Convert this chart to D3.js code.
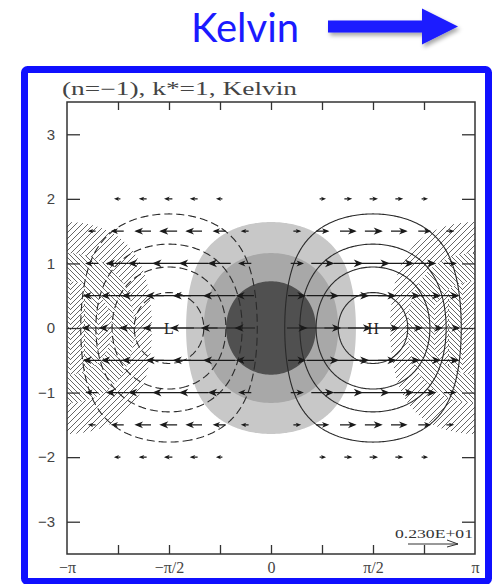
<!DOCTYPE html>
<html>
<head>
<meta charset="utf-8">
<script src="https://cdn.jsdelivr.net/npm/d3@7"></script>
<style>
body { margin: 0; background: #fff; }
</style>
</head>
<body>
<script>
var PI = Math.PI;

// axes
var xTicks = [-PI, -3*PI/4, -PI/2, -PI/4, 0, PI/4, PI/2, 3*PI/4, PI];
var xLabelVals = [-PI, -PI/2, 0, PI/2, PI];
var xLabels = ["\u2212\u03c0", "\u2212\u03c0/2", "0", "\u03c0/2", "\u03c0"];
var yTicks = [-3, -2, -1, 0, 1, 2, 3];

// wind vectors: rows in y, columns in units of pi/8
var arrowRows = [-2, -1.5, -1, -0.5, 0, 0.5, 1, 1.5, 2];
var arrowCols = [-8, -7, -6, -5, -4, -3, -2, -1, 0, 1, 2, 3, 4, 5, 6, 7, 8];
var uMax = 2.30;                     // reference vector 0.230E+01

// Kelvin wave, n=-1, k*=1
var waveK = 1;
var contourLevels = [0.21, 0.43, 0.64, 0.86];   // height, solid (+) / dashed (-)
var shadeLevels = [0.26, 0.51, 0.77];           // divergence, grey (+) / hatched (-)
var shadeColors = ["#c8c8c8", "#a8a8a8", "#505050"];
var centres = [{name: "L", x: -PI/2}, {name: "H", x: PI/2}];

var width = 495, height = 584;
var plot = {left: 67, right: 475, top: 102, bottom: 554};

var x = d3.scaleLinear().domain([-PI, PI]).range([plot.left, plot.right]);
var y = d3.scaleLinear().domain([-3.5, 3.5]).range([plot.bottom, plot.top]);
var arrowLen = d3.scaleLinear().domain([0, uMax]).range([0, 50]);

var svg = d3.select("body").append("svg")
    .attr("width", width)
    .attr("height", height)
    .style("font-family", "'Liberation Serif', serif");

var defs = svg.append("defs");
defs.append("clipPath").attr("id", "plotclip")
    .append("rect")
    .attr("x", plot.left).attr("y", plot.top)
    .attr("width", plot.right - plot.left).attr("height", plot.bottom - plot.top);

//hatch patterns for the negative divergence
var p1 = defs.append("pattern").attr("id", "hatch1").attr("patternUnits", "userSpaceOnUse")
    .attr("width", 6).attr("height", 6);
p1.append("path").attr("d", "M-1,7 L7,-1 M-1,1 L1,-1 M5,7 L7,5")
    .attr("stroke", "#555").attr("stroke-width", 0.9);
var p2 = defs.append("pattern").attr("id", "hatch2").attr("patternUnits", "userSpaceOnUse")
    .attr("width", 5).attr("height", 5);
p2.append("path").attr("d", "M-1,-1 L6,6 M4,-1 L6,1 M-1,4 L1,6")
    .attr("stroke", "#555").attr("stroke-width", 0.9);
//herringbone: columns of alternating slant
var p3 = defs.append("pattern").attr("id", "hatch3").attr("patternUnits", "userSpaceOnUse")
    .attr("width", 28).attr("height", 5);
p3.append("rect").attr("width", 28).attr("height", 5).attr("fill", "#fff");
p3.append("path")
    .attr("d", "M0,0 L5,5 M5,0 L10,5 M10,0 L14,4 M-5,0 L0,5 M9,-1 L10,0 M0,4 L1,5" +
               "M14,5 L19,0 M19,5 L24,0 M24,5 L28,1 M23,6 L24,5")
    .attr("stroke", "#555").attr("stroke-width", 0.9);

var shadow = defs.append("filter").attr("id", "shadow")
    .attr("x", "-20%").attr("y", "-40%").attr("width", "150%").attr("height", "200%");
shadow.append("feDropShadow").attr("dx", 2).attr("dy", 3).attr("stdDeviation", 2)
    .attr("flood-color", "#000").attr("flood-opacity", 0.35);

//header: "Kelvin" with arrow
svg.append("text")
    .attr("x", 191).attr("y", 42)
    .style("font-family", "Lato, 'Open Sans', sans-serif")
    .style("font-size", "40px")
    .attr("fill", "#1a1aff")
    .text("Kelvin");
svg.append("path")
    .attr("d", "M328,20.5 L422,20.5 L422,8.5 L458,26.5 L422,44.5 L422,32.5 L328,32.5 Z")
    .attr("fill", "#1a1aff")
    .attr("filter", "url(#shadow)");

//grid for the fields
var nx = 241, ny = 281;
var dx = 2*PI/(nx - 1), dy = 7/(ny - 1);
function sample(f) {
    var v = new Array(nx*ny);
    for (var j = 0; j < ny; j++) {
        var yy = 3.5 - j*dy;
        for (var i = 0; i < nx; i++) {
            v[j*nx + i] = f(-PI + i*dx, yy);
        }
    }
    return v;
}
function gauss(yy) { return Math.exp(-yy*yy/2); }
var hPos = sample(function(a, b) { return Math.sin(waveK*a)*gauss(b); });
var hNeg = hPos.map(function(v) { return -v; });
var dPos = sample(function(a, b) { return Math.cos(waveK*a)*gauss(b); });
var dNeg = dPos.map(function(v) { return -v; });

var proj = d3.geoTransform({
    point: function(px, py) {
        this.stream.point(x(-PI + (px - 0.5)*dx), y(3.5 - (py - 0.5)*dy));
    }
});
var path = d3.geoPath(proj);
var contours = d3.contours().size([nx, ny]).smooth(true);

var field = svg.append("g").attr("clip-path", "url(#plotclip)");

//grey shading
field.selectAll(".shade").data(contours.thresholds(shadeLevels)(dPos))
    .enter().append("path")
    .attr("class", "shade")
    .attr("d", path)
    .attr("fill", function(d, i) { return shadeColors[i]; });

//hatching
var hatchIds = ["hatch1", "hatch2", "hatch3"];
var hatch = field.selectAll(".hatch").data(contours.thresholds(shadeLevels)(dNeg))
    .enter().append("g").attr("class", "hatch");
hatch.append("path").attr("d", path).attr("fill", "#fff");
hatch.append("path").attr("d", path).attr("fill", function(d, i) { return "url(#" + hatchIds[i] + ")"; });

//height contours
field.selectAll(".hpos").data(contours.thresholds(contourLevels)(hPos))
    .enter().append("path")
    .attr("class", "hpos")
    .attr("d", path)
    .attr("fill", "none")
    .attr("stroke", "#2a2a2a")
    .attr("stroke-width", 1.1);
field.selectAll(".hneg").data(contours.thresholds(contourLevels)(hNeg))
    .enter().append("path")
    .attr("class", "hneg")
    .attr("d", path)
    .attr("fill", "none")
    .attr("stroke", "#2a2a2a")
    .attr("stroke-width", 1.1)
    .attr("stroke-dasharray", "8,4");

//wind arrows, u only (v=0 for Kelvin)
var arrows = [];
arrowRows.forEach(function(r) {
    arrowCols.forEach(function(c) {
        var xx = c*PI/8;
        var u = uMax*Math.sin(waveK*xx)*gauss(r);
        var len = arrowLen(Math.abs(u));
        if (len >= 3) arrows.push({x: xx, y: r, u: u, len: len});
    });
});
var arrowG = svg.append("g").attr("clip-path", "url(#plotclip)");
arrowG.selectAll(".arrow").data(arrows)
    .enter().append("path")
    .attr("class", "arrow")
    .attr("d", function(d) {
        var s = d.u > 0 ? 1 : -1;
        var cx = x(d.x), cy = y(d.y);
        var x0 = cx - s*d.len/2, x1 = cx + s*d.len/2;
        var hl = Math.min(6, d.len*0.35), hw = Math.min(2.5, d.len*0.14);
        return "M" + x0 + "," + cy + "L" + x1 + "," + cy +
               "M" + x1 + "," + cy + "L" + (x1 - s*hl) + "," + (cy - hw) +
               "L" + (x1 - s*hl*0.7) + "," + cy + "L" + (x1 - s*hl) + "," + (cy + hw) + "Z";
    })
    .attr("fill", "#1a1a1a")
    .attr("stroke", "#1a1a1a")
    .attr("stroke-width", 1.2);

//H and L
svg.selectAll(".centre").data(centres)
    .enter().append("text")
    .attr("class", "centre")
    .attr("x", function(d) { return x(d.x); })
    .attr("y", y(0))
    .attr("dy", "0.36em")
    .attr("text-anchor", "middle")
    .style("font-size", "16px")
    .attr("fill", "#222")
    .text(function(d) { return d.name; });

//axes
function clean(g) {
    g.select(".domain").remove();
    g.selectAll(".tick line").attr("stroke", "#333").attr("stroke-width", 1.3);
}
svg.append("g")
    .attr("transform", "translate(0," + plot.top + ")")
    .call(d3.axisTop(x).tickValues(xTicks.slice(1, -1)).tickSize(-8).tickFormat(""))
    .call(clean);
svg.append("g")
    .attr("transform", "translate(0," + plot.bottom + ")")
    .call(d3.axisBottom(x).tickValues(xTicks.slice(1, -1)).tickSize(-9).tickFormat(""))
    .call(clean);
svg.append("g")
    .attr("transform", "translate(0," + plot.bottom + ")")
    .call(d3.axisBottom(x).tickValues(xLabelVals).tickSize(0).tickPadding(8)
        .tickFormat(function(d, i) { return xLabels[i]; }))
    .call(clean)
    .selectAll("text")
    .style("font-family", "'Liberation Serif', serif")
    .style("font-size", "16px")
    .attr("fill", "#444");
svg.append("g")
    .attr("transform", "translate(" + plot.left + ",0)")
    .call(d3.axisLeft(y).tickValues(yTicks).tickSize(-13).tickPadding(12).tickFormat(d3.format("d")))
    .call(clean)
    .selectAll("text")
    .style("font-family", "'Liberation Sans', sans-serif")
    .style("font-size", "15px")
    .attr("fill", "#444");
svg.append("g")
    .attr("transform", "translate(" + plot.right + ",0)")
    .call(d3.axisRight(y).tickValues(yTicks).tickSize(-13).tickFormat(""))
    .call(clean);

svg.append("rect")
    .attr("x", plot.left).attr("y", plot.top)
    .attr("width", plot.right - plot.left).attr("height", plot.bottom - plot.top)
    .attr("fill", "none")
    .attr("stroke", "#333")
    .attr("stroke-width", 1.5);

//title
svg.append("text")
    .attr("x", 62).attr("y", 95)
    .attr("textLength", 235)
    .attr("lengthAdjust", "spacingAndGlyphs")
    .style("font-size", "18px")
    .attr("fill", "#444")
    .text("(n=\u22121), k*=1, Kelvin");

//reference vector
svg.append("text")
    .attr("x", 395).attr("y", 538)
    .attr("textLength", 78)
    .attr("lengthAdjust", "spacingAndGlyphs")
    .style("font-size", "13px")
    .attr("fill", "#333")
    .text("0.230E+01");
var refX = 408, refY = 544;
svg.append("path")
    .attr("d", "M" + refX + "," + refY + "H" + (refX + arrowLen(uMax)) +
               "M" + (refX + arrowLen(uMax) - 11) + "," + (refY - 4) + "L" + (refX + arrowLen(uMax)) + "," + refY +
               "L" + (refX + arrowLen(uMax) - 11) + "," + (refY + 3))
    .attr("fill", "none")
    .attr("stroke", "#333")
    .attr("stroke-width", 1);

//blue frame
svg.append("rect")
    .attr("x", 24.5).attr("y", 69.5)
    .attr("width", 464).attr("height", 512)
    .attr("rx", 3)
    .attr("fill", "none")
    .attr("stroke", "#1010ff")
    .attr("stroke-width", 7);
</script>
</body>
</html>
